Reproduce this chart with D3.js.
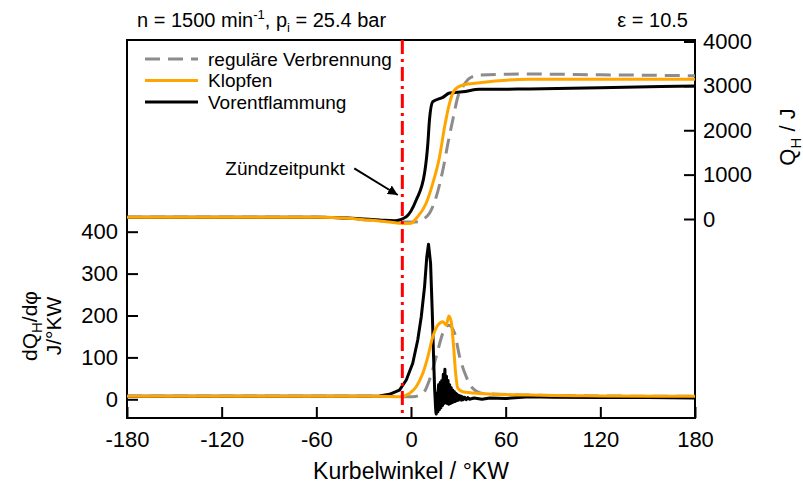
<!DOCTYPE html>
<html>
<head>
<meta charset="utf-8">
<script src="https://cdn.jsdelivr.net/npm/d3@7"></script>
<style>
  body { margin: 0; background: #fff; }
  text { font-family: Arial, "Liberation Sans", sans-serif; fill: #000; }
</style>
</head>
<body>
<div id="chart"></div>
<script>
// Data: heat release Q_H (right axis) and heat release rate dQ_H/dphi (left axis)
const xTicks = [-180, -120, -60, 0, 60, 120, 180];
const qTicks = [0, 1000, 2000, 3000, 4000];
const dqTicks = [0, 100, 200, 300, 400];
const ignitionAngle = -5.5;

// Q_H / J
const qRegAngle = [-180, -60, -50, -40, -30, -20, -10, 0, 5.4, 8, 11.7, 16, 20.2, 23.4, 26.9, 29.7, 32.9, 37.1, 43.5, 75, 120, 180];
const qRegValue = [40, 40, 35, 15, -15, -40, -60, -70, -60, 0, 128, 502, 1104, 1705, 2305, 2755, 2981, 3170, 3245, 3267, 3250, 3229];

const qKnockAngle = [-180, -60, -50, -40, -30, -20, -10, -3, 0, 3.3, 9.6, 13.8, 18.1, 21.3, 24.4, 27.6, 32.9, 43.5, 75, 120, 180];
const qKnockValue = [40, 40, 35, 15, -15, -45, -85, -100, -95, 16, 354, 804, 1404, 2080, 2607, 2907, 3019, 3071, 3148, 3150, 3148];

const qPreAngle = [-180, -60, -50, -40, -30, -20, -10.5, -3, 3.3, 8.6, 10.7, 11.7, 13.8, 20.2, 24.4, 32.7, 43.5, 75, 120, 180];
const qPreValue = [40, 40, 35, 20, 0, -20, -38, 52, 428, 1036, 1712, 2231, 2643, 2742, 2839, 2868, 2922, 2929, 2960, 2997];

// dQ_H/dphi / J/°KW
const dqRegAngle = [-180, -20, 1.1, 7.5, 11.7, 16, 20.2, 24, 27.6, 30.8, 35, 39.2, 45.6, 75, 120, 180];
const dqRegValue = [7, 7, 6, 14, 46, 102, 158, 177, 158, 102, 54, 26, 14, 10, 8, 7];

const dqKnockAngle = [-180, -20, -7.3, -1, 3.3, 7.5, 10.7, 13.8, 17, 20.2, 22.3, 24, 25.5, 27, 28.3, 29.7, 32.9, 43.5, 75, 120, 180];
const dqKnockValue = [7, 7, 6, 14, 30, 62, 102, 149, 177, 185, 177, 199, 185, 126, 62, 26, 18, 14, 10, 8, 7];

const dqPreAngle = [-180, -20, -13.7, -7.3, -3, 1.1, 4.3, 6.5, 8.6, 10, 11.1, 12.4, 13.5, 14.3,
  15, 15.25, 15.5, 15.75, 16, 16.25, 16.5, 16.75, 17, 17.25, 17.5, 17.75,
  18, 18.25, 18.5, 18.75, 19, 19.25, 19.5, 19.75, 20, 20.25, 20.5, 20.75,
  21, 21.25, 21.5, 21.75, 22, 22.25, 22.5, 22.75, 23, 23.25, 23.5, 23.75,
  24, 24.25, 24.5, 24.75, 25, 25.25, 25.5, 25.75, 26, 26.25, 26.5, 26.75,
  27, 27.25, 27.5, 27.75, 28, 28.25, 28.5, 28.75, 29, 29.25, 29.5, 29.75,
  30, 30.5, 31, 31.5, 32, 32.5, 33, 34, 35, 36, 37, 40, 45, 50, 60, 75, 90, 120, 150, 180];
const dqPreValue = [7, 8, 12, 22, 46, 86, 142, 197, 269, 340, 370, 325, 205, 102,
  22, 5, -15, -30, -35, -5, 15, -20, -30, 20, 35, -10,
  -25, 25, 40, -5, -20, 30, 45, 0, -15, 40, 60, 5,
  -10, 55, 72, 10, -8, 45, 55, 0, -10, 40, 45, -5,
  -12, 30, 35, -5, -10, 25, 28, -5, -8, 20, 22, -5,
  -6, 18, 18, -3, -5, 15, 14, -2, -3, 12, 10, 0,
  -2, 9, 0, 8, -2, 6, -1, 5, -1, 4, 0, 3, 0, 3, 2, 6, 5, 4, 4, 3];

const legendLabels = ["reguläre Verbrennung", "Klopfen", "Vorentflammung"];

// Layout
const width = 803;
const height = 488;
const plotLeft = 127, plotRight = 695, plotTop = 40, plotBottom = 418;

const svg = d3.select("#chart").append("svg")
  .attr("width", width)
  .attr("height", height);

//-----------------------------SCALES-----------------------------//
const x = d3.scaleLinear().domain([-180, 180]).range([plotLeft, plotRight]);
const yQ = d3.scaleLinear().domain([0, 4000]).range([219, 41.5]);
const yD = d3.scaleLinear().domain([0, 400]).range([399.3, 231.7]);

//-----------------------------AXES-----------------------------//
const tickFont = "22px";
const plain = d => String(d);

const xAxis = svg.append("g")
  .attr("transform", `translate(0, ${plotBottom})`)
  .call(d3.axisBottom(x).tickValues(xTicks).tickFormat(plain).tickSize(-11).tickPadding(13).tickSizeOuter(0));

const leftAxis = svg.append("g")
  .attr("transform", `translate(${plotLeft}, 0)`)
  .call(d3.axisLeft(yD).tickValues(dqTicks).tickFormat(plain).tickSize(-11).tickPadding(9).tickSizeOuter(0));

const rightAxis = svg.append("g")
  .attr("transform", `translate(${plotRight}, 0)`)
  .call(d3.axisRight(yQ).tickValues(qTicks).tickFormat(plain).tickSize(-11).tickPadding(8).tickSizeOuter(0));

[xAxis, leftAxis, rightAxis].forEach(function (g) {
  g.select(".domain").remove();
  g.selectAll(".tick line").attr("stroke", "#000").attr("stroke-width", 2);
  g.selectAll(".tick text").style("font-size", tickFont).style("font-family", "Arial, 'Liberation Sans', sans-serif");
});

// frame
svg.append("rect")
  .attr("x", plotLeft).attr("y", plotTop)
  .attr("width", plotRight - plotLeft).attr("height", plotBottom - plotTop)
  .attr("fill", "none").attr("stroke", "#000").attr("stroke-width", 2);

//-----------------------------LINES----------------------------//
function zip(a, v) {
  return a.map(function (d, i) { return { a: d, v: v[i] }; });
}

const lineQ = d3.line().x(d => x(d.a)).y(d => yQ(d.v)).curve(d3.curveMonotoneX);
const lineD = d3.line().x(d => x(d.a)).y(d => yD(d.v)).curve(d3.curveMonotoneX);
const lineDRaw = d3.line().x(d => x(d.a)).y(d => yD(d.v));

const grey = "#8c8c8c", orange = "#ffa500", black = "#000";

function draw(path, data, color, dash) {
  svg.append("path")
    .attr("d", path(data))
    .attr("fill", "none")
    .attr("stroke", color)
    .attr("stroke-width", 3)
    .attr("stroke-linejoin", "round")
    .attr("stroke-dasharray", dash || null);
}

draw(lineQ, zip(qRegAngle, qRegValue), grey, "15,8");
draw(lineD, zip(dqRegAngle, dqRegValue), grey, "15,8");
draw(lineQ, zip(qPreAngle, qPreValue), black);
draw(lineDRaw, zip(dqPreAngle, dqPreValue), black);
draw(lineQ, zip(qKnockAngle, qKnockValue), orange);
draw(lineD, zip(dqKnockAngle, dqKnockValue), orange);

// ignition line
svg.append("line")
  .attr("x1", x(ignitionAngle)).attr("x2", x(ignitionAngle))
  .attr("y1", plotTop).attr("y2", plotBottom)
  .attr("stroke", "#ff0000")
  .attr("stroke-width", 3)
  .attr("stroke-dasharray", "14,5,3,5");

//---------------------------ANNOTATION---------------------------//
svg.append("defs").append("marker")
  .attr("id", "arrow")
  .attr("viewBox", "0 0 10 10")
  .attr("refX", 10).attr("refY", 5)
  .attr("markerWidth", 5).attr("markerHeight", 5)
  .attr("orient", "auto")
  .append("path")
  .attr("d", "M0,0 L10,5 L0,10 Z")
  .attr("fill", "#000");

svg.append("line")
  .attr("x1", x(-36)).attr("y1", yQ(1142))
  .attr("x2", x(-8.4)).attr("y2", yQ(541))
  .attr("stroke", "#000").attr("stroke-width", 2)
  .attr("marker-end", "url(#arrow)");

svg.append("text")
  .attr("x", x(-42)).attr("y", yQ(1150))
  .attr("dy", "0.35em")
  .attr("text-anchor", "end")
  .style("font-size", "19px")
  .text("Zündzeitpunkt");

//---------------------------LEGEND-----------------------------//
const legendStyles = [[grey, "15,8"], [orange, null], [black, null]];
const legend = svg.append("g");
legendLabels.forEach(function (lab, i) {
  const ly = 59 + i * 21.5;
  legend.append("line")
    .attr("x1", 145).attr("x2", 198).attr("y1", ly).attr("y2", ly)
    .attr("stroke", legendStyles[i][0]).attr("stroke-width", 3)
    .attr("stroke-dasharray", legendStyles[i][1]);
  legend.append("text")
    .attr("x", 208).attr("y", ly).attr("dy", "0.35em")
    .style("font-size", "19px")
    .text(lab);
});

//---------------------------TITLES-----------------------------//
const title = svg.append("text")
  .attr("x", 137).attr("y", 27)
  .style("font-size", "20px");
title.append("tspan").text("n = 1500 min");
title.append("tspan").attr("dy", -8).style("font-size", "13px").text("-1");
title.append("tspan").attr("dy", 8).text(", p");
title.append("tspan").attr("dy", 5).style("font-size", "13px").text("i");
title.append("tspan").attr("dy", -5).text(" = 25.4 bar");

svg.append("text")
  .attr("x", 688).attr("y", 27)
  .attr("text-anchor", "end")
  .style("font-size", "20px")
  .text("ε = 10.5");

svg.append("text")
  .attr("x", (plotLeft + plotRight) / 2).attr("y", 479)
  .attr("text-anchor", "middle")
  .style("font-size", "23px")
  .text("Kurbelwinkel / °KW");

const qLabel = svg.append("text")
  .attr("transform", "translate(787, 137) rotate(-90)")
  .attr("text-anchor", "middle")
  .attr("dy", "0.35em")
  .style("font-size", "22px");
qLabel.append("tspan").text("Q");
qLabel.append("tspan").attr("dy", 6).style("font-size", "15px").text("H");
qLabel.append("tspan").attr("dy", -6).text(" / J");

const dLabel = svg.append("text")
  .attr("transform", "translate(30, 326) rotate(-90)")
  .attr("text-anchor", "middle")
  .attr("dy", "0.35em")
  .style("font-size", "21px");
dLabel.append("tspan").text("dQ");
dLabel.append("tspan").attr("dy", 5).style("font-size", "15px").text("H");
dLabel.append("tspan").attr("dy", -5).text("/dφ");

svg.append("text")
  .attr("transform", "translate(54, 326) rotate(-90)")
  .attr("text-anchor", "middle")
  .attr("dy", "0.35em")
  .style("font-size", "21px")
  .text("J/°KW");
</script>
</body>
</html>
